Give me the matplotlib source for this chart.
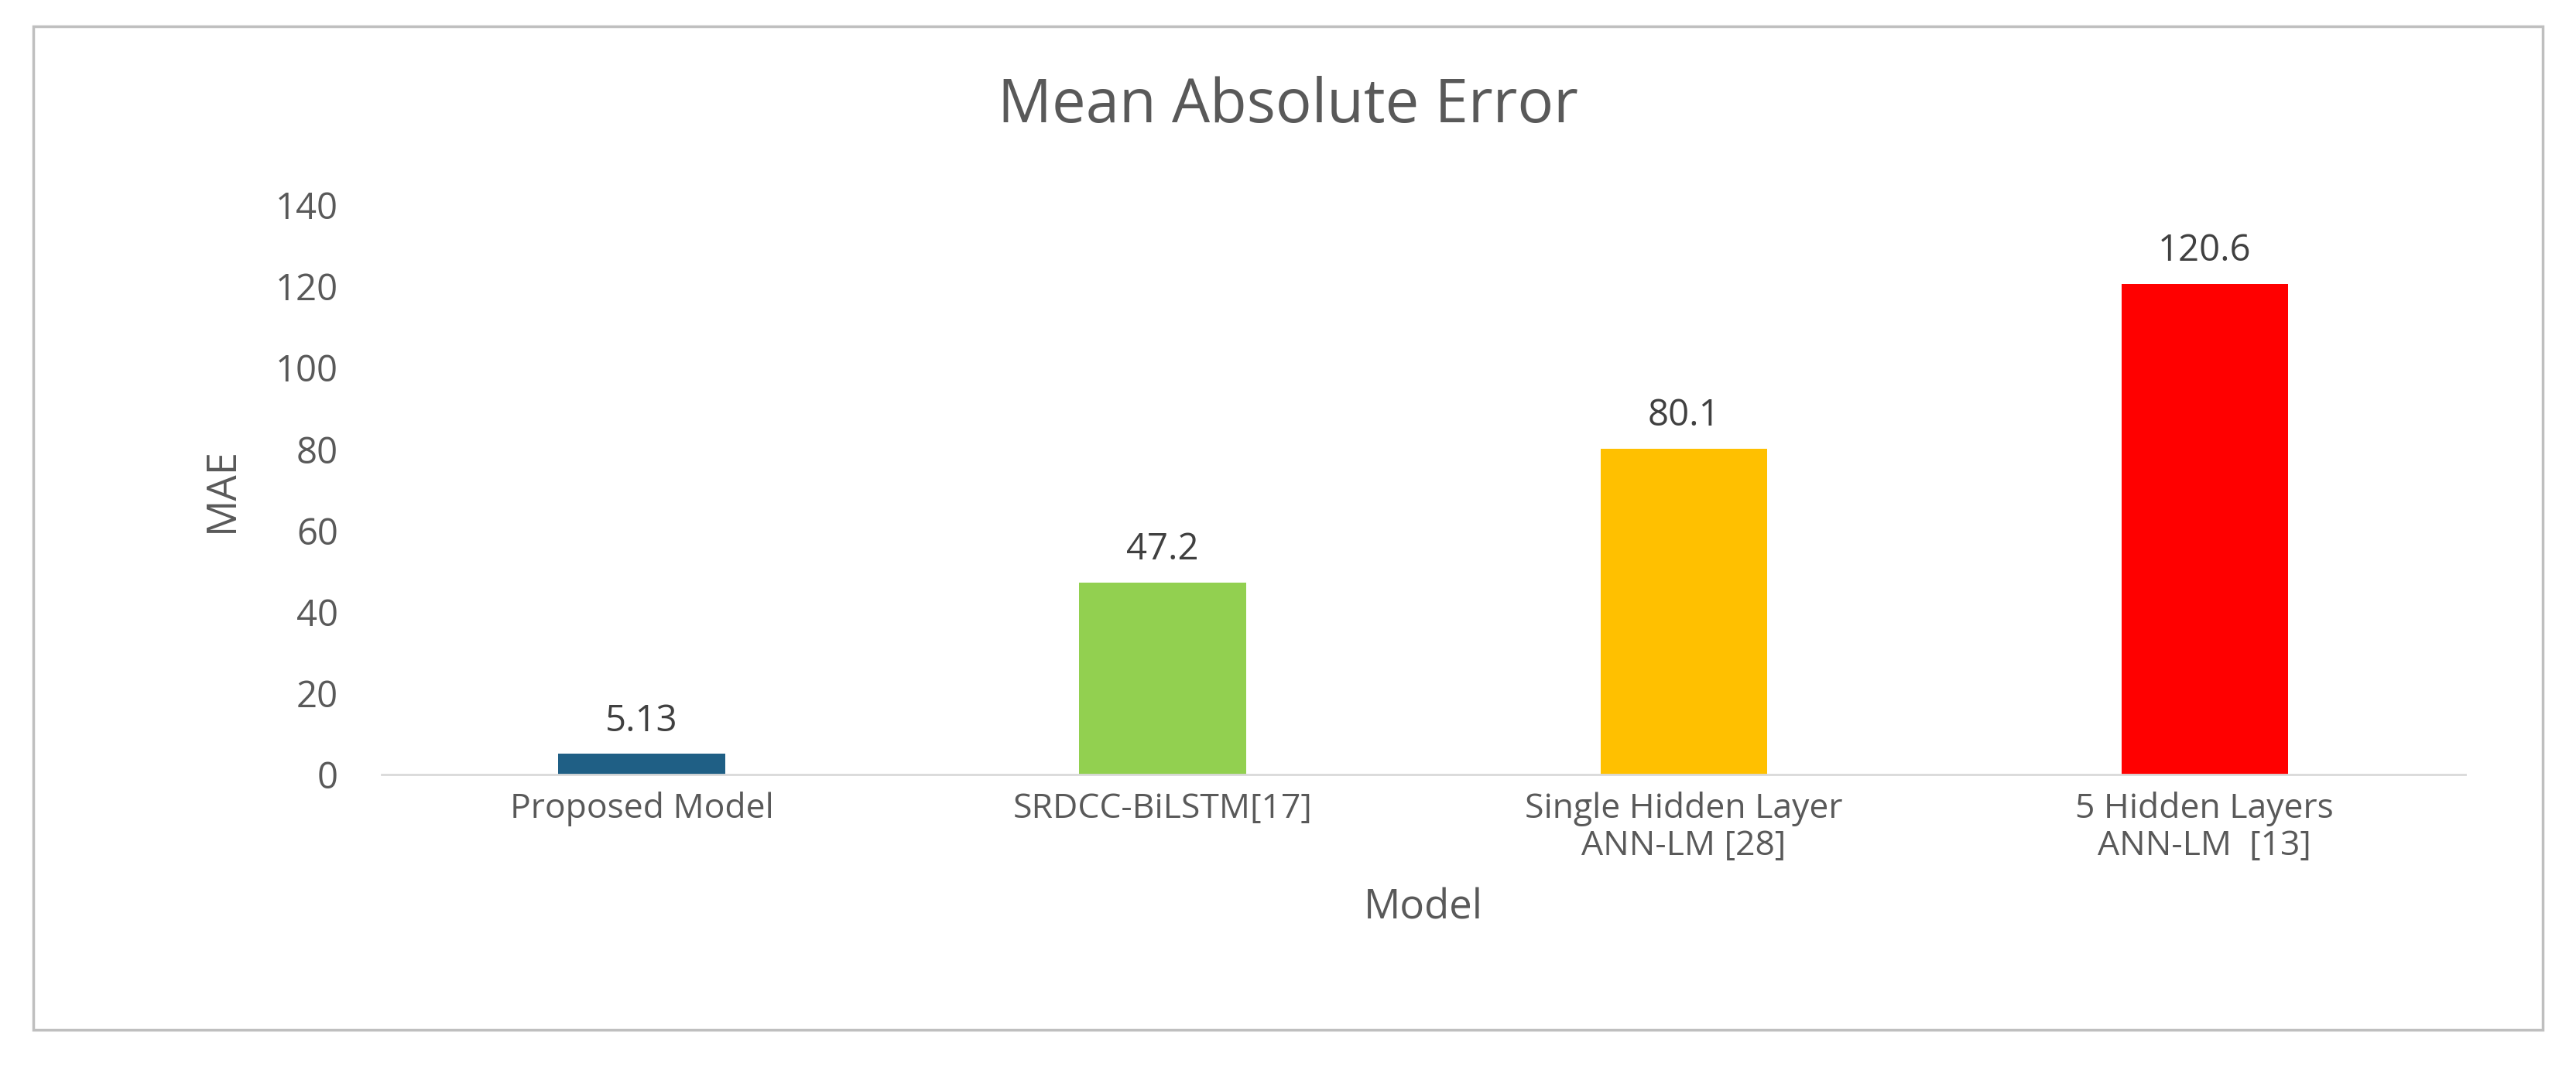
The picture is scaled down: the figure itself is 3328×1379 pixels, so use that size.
import matplotlib.pyplot as plt
from matplotlib.patches import Rectangle

models = ["Proposed Model", "SRDCC-BiLSTM[17]", "Single Hidden Layer\nANN-LM [28]", "5 Hidden Layers\nANN-LM  [13]"]
mae = [5.13, 47.2, 80.1, 120.6]
labels = ["5.13", "47.2", "80.1", "120.6"]
colors = ["#1F5F85", "#92D050", "#FFC000", "#FF0000"]

plt.rcParams["font.family"] = ["Open Sans", "DejaVu Sans"]
TXT = "#595959"

fig = plt.figure(figsize=(33.28, 13.79), dpi=100)
fig.patches.append(Rectangle((0.013, 0.035), 0.974, 0.94, transform=fig.transFigure,
                             fill=False, edgecolor="#BFBFBF", lw=2.5))
ax = fig.add_axes([0.148, 0.274, 0.809, 0.534])

x = range(len(models))
ax.bar(x, mae, width=0.32, color=colors)
for i, v in enumerate(mae):
    ax.text(i, v + 3.5, labels[i], ha="center", va="bottom", fontsize=34, color="#404040")

ax.set_ylim(0, 140)
ax.set_xlim(-0.5, 3.5)
ax.set_yticks(range(0, 141, 20))
ax.set_xticks(list(x))
ax.set_xticklabels(models, fontsize=32, color=TXT, linespacing=1.1)
ax.tick_params(axis="y", labelsize=34, labelcolor=TXT, length=0, pad=40)
ax.tick_params(axis="x", length=0, pad=16)
for s in ["top", "right", "left"]:
    ax.spines[s].set_visible(False)
ax.spines["bottom"].set_color("#D9D9D9")
ax.spines["bottom"].set_linewidth(2)

ax.set_xlabel("Model", fontsize=38, color=TXT, labelpad=22)
ax.set_ylabel("MAE", fontsize=38, color=TXT, labelpad=30)
fig.text(0.5, 0.9, "Mean Absolute Error", ha="center", va="center", fontsize=56, color=TXT)

fig.savefig("out.png", dpi=100)
